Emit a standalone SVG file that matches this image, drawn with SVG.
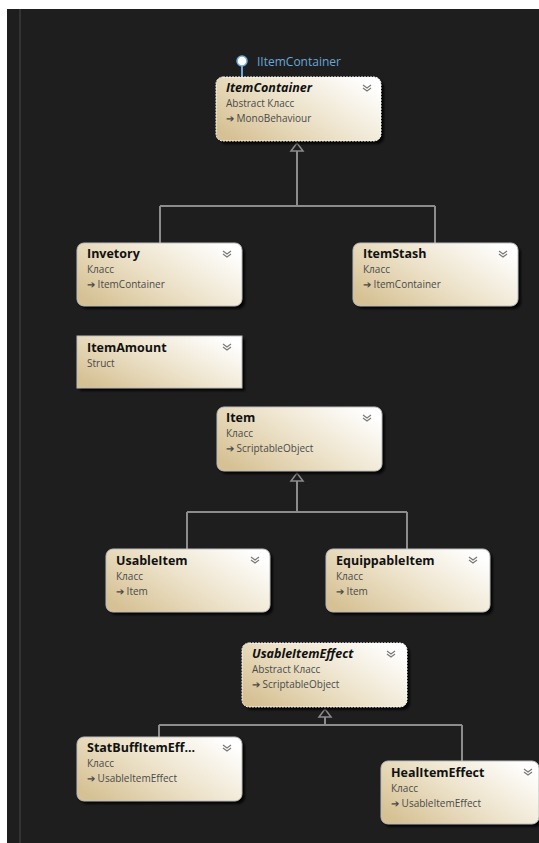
<svg xmlns="http://www.w3.org/2000/svg" width="539" height="843" viewBox="0 0 539 843">
<defs>
<linearGradient id="g" x1="0" y1="0.8" x2="1" y2="0.2">
<stop offset="0" stop-color="#d6c194"/>
<stop offset="0.5" stop-color="#ede3cb"/>
<stop offset="1" stop-color="#ffffff"/>
</linearGradient>
<filter id="sh" x="-10%" y="-10%" width="130%" height="140%">
<feGaussianBlur stdDeviation="1"/>
</filter>
</defs>
<style>
.title{font-family:"Open Sans","Noto Sans",sans-serif;font-size:12.5px;font-weight:bold;fill:#111}
.ital{font-style:italic}
.sub{font-family:"Open Sans","Noto Sans",sans-serif;font-size:10px;fill:#4a4a4a}
.box{fill:url(#g);stroke:#bdbdbd;stroke-width:1}
.abs{stroke:#ffffff;stroke-dasharray:2 1}
.shadow{fill:#000;opacity:0.8;filter:url(#sh)}
.chev{fill:none;stroke:#7a7a7a;stroke-width:1.2}
.conn{fill:none;stroke:#8c8c8c;stroke-width:2}
.tri{fill:#1e1e1e;stroke:#8c8c8c;stroke-width:1.5}
</style>
<rect x="0" y="0" width="539" height="843" fill="#ffffff"/>
<rect x="7" y="9" width="532" height="834" fill="#1e1e1e"/>
<rect x="19" y="9" width="2" height="834" fill="#333333"/>

<g id="connectors">
<path class="conn" d="M297 151 V206 M160 206 H435 M160 206 V243 M435 206 V243"/>
<polygon class="tri" points="297,143 291,151 303,151"/>
<path class="conn" d="M297 481 V512 M187 512 H407 M187 512 V549 M407 512 V549"/>
<polygon class="tri" points="297,473 291,481 303,481"/>
<path class="conn" d="M325 717 V725 M159 725 H462 M159 725 V737 M462 725 V761"/>
<polygon class="tri" points="325,709 319,717 331,717"/>
<line x1="242" y1="62" x2="242" y2="77" stroke="#6fa8dc" stroke-width="2"/>
</g>

<g id="IItemContainer">
<circle cx="242" cy="61" r="5" fill="#ffffff" stroke="#6fa8dc" stroke-width="1.5"/>
<text x="257" y="66" font-family="Open Sans, Noto Sans, sans-serif" font-size="12" fill="#6aa6d8">IItemContainer</text>
</g>

<g id="ItemContainer">
<rect class="shadow" x="219" y="80" width="165" height="64" rx="7"/>
<rect class="box abs" x="216" y="77" width="165" height="64" rx="7"/>
<text class="title ital" x="226" y="92">ItemContainer</text>
<text class="sub" x="226" y="107">Abstract Класс</text>
<text class="sub" x="226" y="122">➔ MonoBehaviour</text>
<path class="chev" d="M363 85 l4 3 l4 -3 M363 88 l4 3 l4 -3"/>
</g>

<g id="Invetory">
<rect class="shadow" x="80" y="246" width="165" height="63" rx="7"/>
<rect class="box" x="77" y="243" width="165" height="63" rx="7"/>
<text class="title" x="87" y="258">Invetory</text>
<text class="sub" x="87" y="273">Класс</text>
<text class="sub" x="87" y="288">➔ ItemContainer</text>
<path class="chev" d="M223 251 l4 3 l4 -3 M223 254 l4 3 l4 -3"/>
</g>

<g id="ItemStash">
<rect class="shadow" x="356" y="246" width="165" height="63" rx="7"/>
<rect class="box" x="353" y="243" width="165" height="63" rx="7"/>
<text class="title" x="363" y="258">ItemStash</text>
<text class="sub" x="363" y="273">Класс</text>
<text class="sub" x="363" y="288">➔ ItemContainer</text>
<path class="chev" d="M499 251 l4 3 l4 -3 M499 254 l4 3 l4 -3"/>
</g>

<g id="ItemAmount">
<rect class="shadow" x="80" y="339" width="165" height="52"/>
<rect class="box" x="77" y="336" width="165" height="52"/>
<text class="title" x="87" y="352">ItemAmount</text>
<text class="sub" x="87" y="367">Struct</text>
<path class="chev" d="M223 344 l4 3 l4 -3 M223 347 l4 3 l4 -3"/>
</g>

<g id="Item">
<rect class="shadow" x="220" y="410" width="165" height="64" rx="7"/>
<rect class="box" x="217" y="407" width="165" height="64" rx="7"/>
<text class="title" x="226" y="422">Item</text>
<text class="sub" x="226" y="437">Класс</text>
<text class="sub" x="226" y="452">➔ ScriptableObject</text>
<path class="chev" d="M363 415 l4 3 l4 -3 M363 418 l4 3 l4 -3"/>
</g>

<g id="UsableItem">
<rect class="shadow" x="109" y="552" width="164" height="63" rx="7"/>
<rect class="box" x="106" y="549" width="164" height="63" rx="7"/>
<text class="title" x="116" y="565">UsableItem</text>
<text class="sub" x="116" y="580">Класс</text>
<text class="sub" x="116" y="595">➔ Item</text>
<path class="chev" d="M251 557 l4 3 l4 -3 M251 560 l4 3 l4 -3"/>
</g>

<g id="EquippableItem">
<rect class="shadow" x="329" y="552" width="164" height="63" rx="7"/>
<rect class="box" x="326" y="549" width="164" height="63" rx="7"/>
<text class="title" x="336" y="565">EquippableItem</text>
<text class="sub" x="336" y="580">Класс</text>
<text class="sub" x="336" y="595">➔ Item</text>
<path class="chev" d="M469 557 l4 3 l4 -3 M469 560 l4 3 l4 -3"/>
</g>

<g id="UsableItemEffect">
<rect class="shadow" x="245" y="646" width="165" height="64" rx="7"/>
<rect class="box abs" x="242" y="643" width="165" height="64" rx="7"/>
<text class="title ital" x="252" y="658">UsableItemEffect</text>
<text class="sub" x="252" y="673">Abstract Класс</text>
<text class="sub" x="252" y="688">➔ ScriptableObject</text>
<path class="chev" d="M387 651 l4 3 l4 -3 M387 654 l4 3 l4 -3"/>
</g>

<g id="StatBuffItemEffect">
<rect class="shadow" x="80" y="740" width="165" height="64" rx="7"/>
<rect class="box" x="77" y="737" width="165" height="64" rx="7"/>
<text class="title" x="87" y="752">StatBuffItemEff...</text>
<text class="sub" x="87" y="767">Класс</text>
<text class="sub" x="87" y="782">➔ UsableItemEffect</text>
<path class="chev" d="M223 745 l4 3 l4 -3 M223 748 l4 3 l4 -3"/>
</g>

<g id="HealItemEffect">
<rect class="shadow" x="384" y="764" width="158" height="63" rx="7"/>
<rect class="box" x="381" y="761" width="158" height="63" rx="7"/>
<text class="title" x="391" y="777">HealItemEffect</text>
<text class="sub" x="391" y="792">Класс</text>
<text class="sub" x="391" y="807">➔ UsableItemEffect</text>
<path class="chev" d="M524 769 l4 3 l4 -3 M524 772 l4 3 l4 -3"/>
</g>
</svg>
